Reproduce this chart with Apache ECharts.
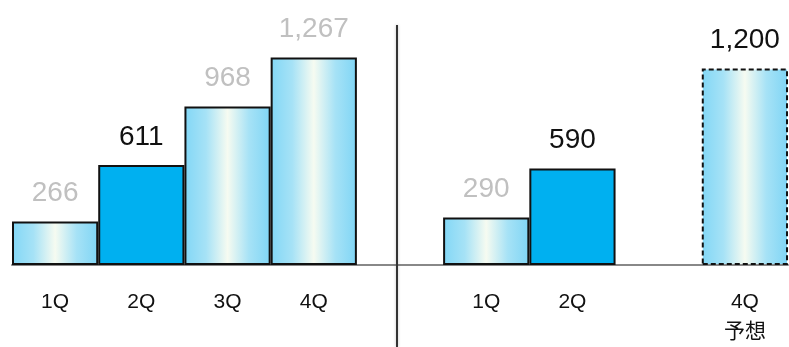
<!DOCTYPE html>
<html>
<head>
<meta charset="utf-8">
<script src="https://cdn.jsdelivr.net/npm/echarts@6/dist/echarts.min.js"></script>
<style>
  html, body { margin: 0; padding: 0; background: #fff; }
  #chart { width: 789px; height: 347px; }
</style>
</head>
<body>
<div id="chart"></div>
<script>
// Quarterly figures: previous year (left block) and current year with forecast (right block).
// The blank slot between the blocks holds the divider line.
const categories = ['1Q', '2Q', '3Q', '4Q', '', '1Q', '2Q', '', '4Q\n予想'];
const values = [266, 611, 968, 1267, null, 290, 590, null, 1200];
// How each bar is drawn: gradient fill, solid fill, or dashed forecast outline.
const barKinds = ['grad', 'solid', 'grad', 'grad', null, 'grad', 'solid', null, 'forecast'];

const chart = echarts.init(document.getElementById('chart'), null, { renderer: 'canvas' });

const gradFill = new echarts.graphic.LinearGradient(0, 0, 1, 0, [
  { offset: 0, color: '#82d7f6' },
  { offset: 0.25, color: '#a6e2f6' },
  { offset: 0.5, color: '#f6fbf1' },
  { offset: 0.75, color: '#a6e2f6' },
  { offset: 1, color: '#7fd5f5' }
]);

const seriesData = values.map((v, i) => {
  const kind = barKinds[i];
  if (v == null) return { value: null };
  return {
    value: v,
    itemStyle: {
      color: kind === 'solid' ? '#00b0f0' : gradFill,
      borderColor: '#111',
      borderWidth: 2,
      borderType: kind === 'forecast' ? [5, 3] : 'solid'
    },
    label: {
      color: kind === 'grad' ? '#c0c0c0' : '#111'
    }
  };
});

const fontFamily = '"Liberation Sans", "Noto Sans CJK JP", sans-serif';

chart.setOption({
  animation: false,
  backgroundColor: '#ffffff',
  grid: { left: 12, right: 1, top: 3, bottom: 81 },
  xAxis: {
    type: 'category',
    data: categories,
    axisLine: { show: true, lineStyle: { color: '#888888', width: 2 } },
    axisTick: { show: false },
    axisLabel: {
      interval: 0,
      margin: 22,
      color: '#111',
      fontSize: 21,
      lineHeight: 30,
      fontFamily: fontFamily
    }
  },
  yAxis: {
    type: 'value',
    min: 0,
    max: 1600,
    show: false,
    splitLine: { show: false }
  },
  series: [{
    type: 'bar',
    data: seriesData,
    barCategoryGap: '0%',
    label: {
      show: true,
      position: 'top',
      distance: 14,
      fontSize: 28,
      fontFamily: fontFamily,
      formatter: p => p.value == null ? '' : p.value.toLocaleString('en-US')
    }
  }]
});

// Vertical divider in the blank slot between the two years.
const divX = Math.round(chart.convertToPixel({ xAxisIndex: 0 }, 4)) - 3;
chart.setOption({
  graphic: [{
    type: 'line',
    shape: { x1: divX, y1: 25, x2: divX, y2: 347 },
    style: { stroke: '#333333', lineWidth: 2, shadowColor: 'rgba(0,0,0,0.25)', shadowBlur: 3 },
    z: 10
  }]
});
</script>
</body>
</html>
